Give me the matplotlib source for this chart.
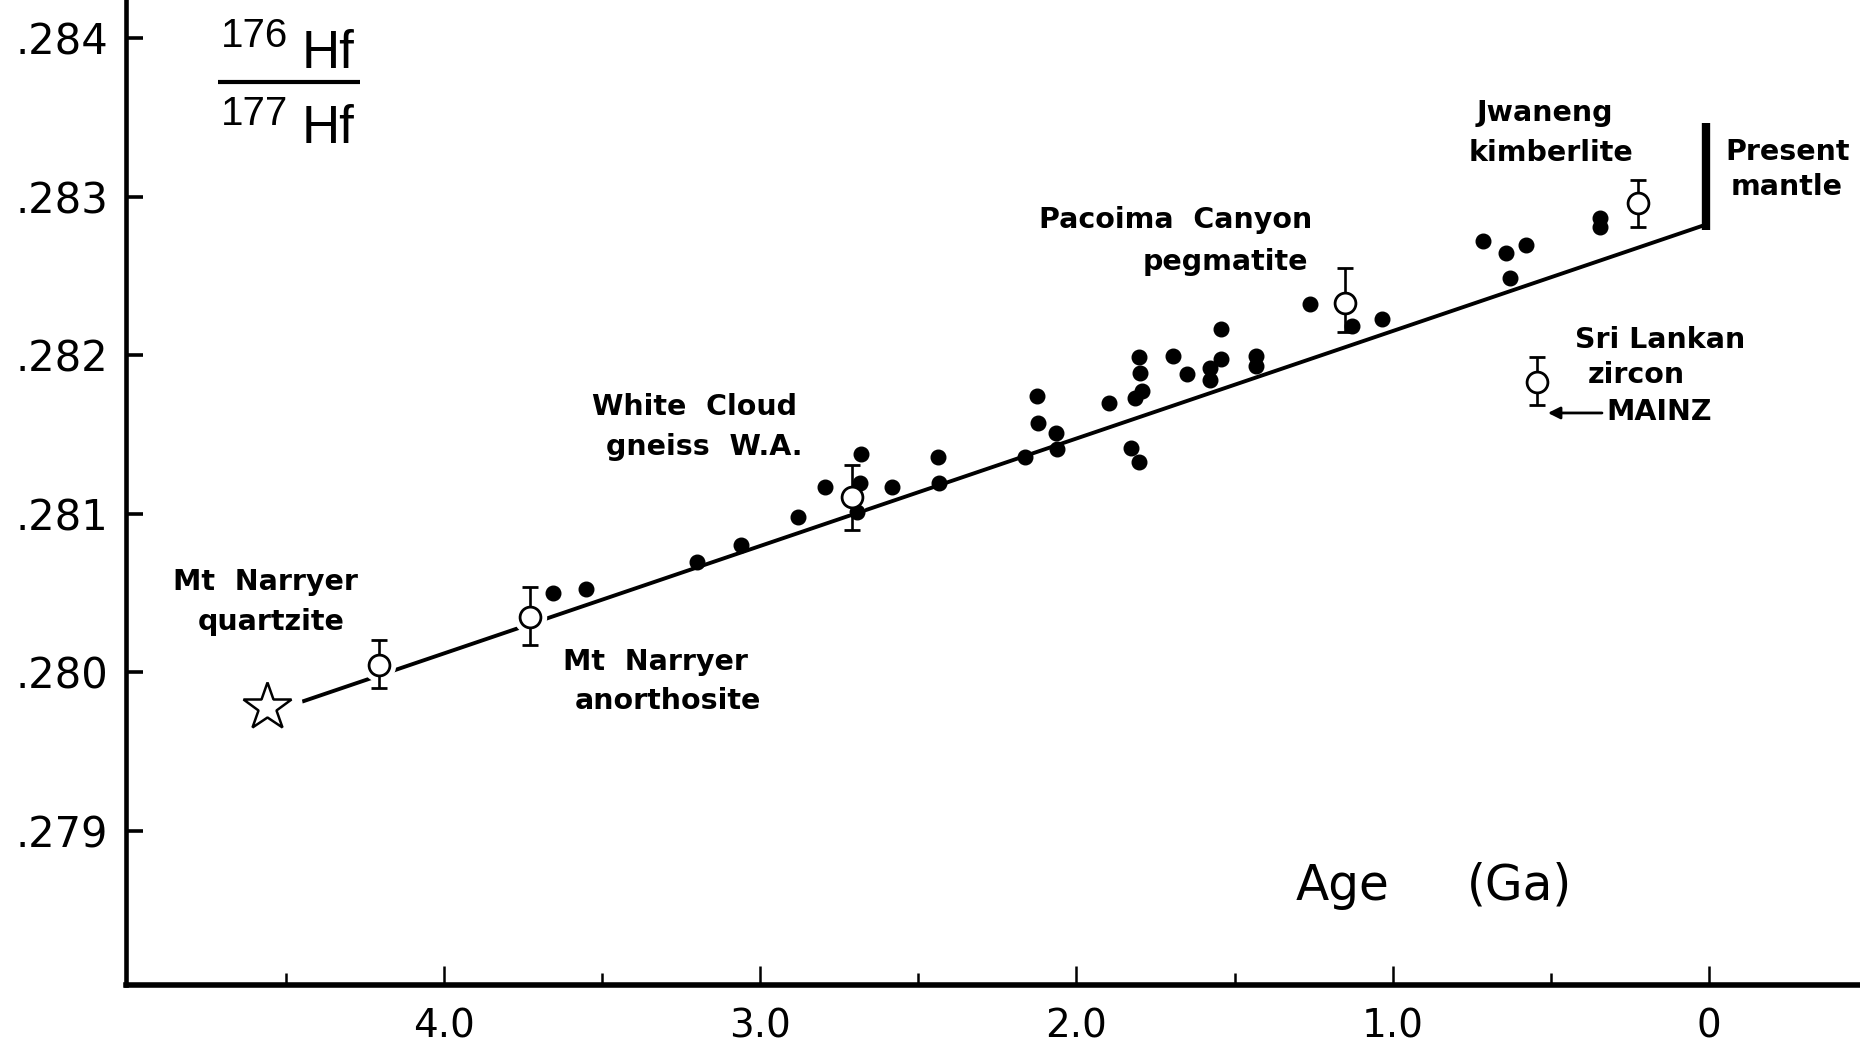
import matplotlib
matplotlib.use('Agg')
import matplotlib.pyplot as plt
from matplotlib.ticker import FixedLocator

plt.rcParams['font.family'] = ['DejaVu Sans']

# filled dots: individual zircon analyses (age in Ga, 176Hf/177Hf)
dot_age = [3.655, 3.552, 3.200, 3.062, 2.882, 2.796, 2.680, 2.685, 2.694, 2.585,
           2.437, 2.434, 2.163, 2.065, 2.063, 2.124, 2.121, 1.897, 1.829, 1.802,
           1.802, 1.799, 1.815, 1.794, 1.696, 1.650, 1.578, 1.578, 1.544, 1.544,
           1.433, 1.433, 1.260, 1.130, 1.035, 0.714, 0.642, 0.579, 0.629, 0.345,
           0.345]
dot_hf = [0.280503, 0.280524, 0.280696, 0.280803, 0.280982, 0.281171, 0.281377,
          0.281192, 0.281013, 0.281171, 0.281356, 0.281196, 0.281360, 0.281508,
          0.281407, 0.281743, 0.281574, 0.281697, 0.281413, 0.281328, 0.281991,
          0.281890, 0.281728, 0.281776, 0.281997, 0.281881, 0.281917, 0.281844,
          0.282163, 0.281974, 0.281997, 0.281932, 0.282321, 0.282184, 0.282226,
          0.282722, 0.282642, 0.282695, 0.282485, 0.282863, 0.282810]

# open circles with error bars
circ_age = [4.206, 3.729, 2.711, 1.151, 0.224, 0.545]
circ_hf = [0.280047, 0.280349, 0.281108, 0.282327, 0.282958, 0.281833]
circ_err_lo = [0.000145, 0.000176, 0.000210, 0.000180, 0.000148, 0.000147]
circ_err_hi = [0.000157, 0.000189, 0.000200, 0.000220, 0.000147, 0.000158]

# chondritic starting point (star)
star_age = [4.561]
star_hf = [0.279784]

# evolution line
line_age = [4.561, 0.0]
line_hf = [0.27974, 0.28283]

# present mantle range
mantle_age = [0.01, 0.01]
mantle_hf = [0.282789, 0.283464]

x_ticks = [4.0, 3.0, 2.0, 1.0, 0.0]
x_tick_labels = ['4.0', '3.0', '2.0', '1.0', '0']
x_minor = [4.5, 3.5, 2.5, 1.5, 0.5]
y_ticks = [0.279, 0.280, 0.281, 0.282, 0.283, 0.284]
y_tick_labels = ['.279', '.280', '.281', '.282', '.283', '.284']

fig = plt.figure(figsize=(18.6, 10.42), dpi=100)
ax = fig.add_axes([126 / 1860, 57 / 1042, 1 - 126 / 1860, 985 / 1042])

ax.set_xlim(5.006, -0.478)
ax.set_ylim(0.278029, 0.284240)

# line with white gaps round the open symbols
ax.plot(line_age, line_hf, color='black', lw=2.8, zorder=1, solid_capstyle='butt')
ax.plot(circ_age, circ_hf, 'o', color='white', ms=23, zorder=2)
ax.plot(star_age, star_hf, 'o', color='white', ms=50, zorder=2)

ax.plot(dot_age, dot_hf, 'o', color='black', ms=10.5, ls='none', zorder=3)

ax.errorbar(circ_age, circ_hf, yerr=[circ_err_lo, circ_err_hi], fmt='o', ms=15,
            mfc='white', mec='black', mew=2.0, ecolor='black', elinewidth=1.9,
            capsize=6, capthick=2.3, zorder=4)

ax.plot(star_age, star_hf, marker='*', ms=36, mfc='white', mec='black', mew=1.8,
        ls='none', zorder=4)

ax.plot(mantle_age, mantle_hf, color='black', lw=6, solid_capstyle='butt', zorder=4)

# axes styling
for side in ['top', 'right']:
    ax.spines[side].set_visible(False)
ax.spines['left'].set_linewidth(3.3)
ax.spines['bottom'].set_linewidth(4)

ax.xaxis.set_major_locator(FixedLocator(x_ticks))
ax.xaxis.set_minor_locator(FixedLocator(x_minor))
ax.set_xticklabels(x_tick_labels)
ax.yaxis.set_major_locator(FixedLocator(y_ticks))
ax.set_yticklabels(y_tick_labels)

ax.tick_params(axis='x', which='major', direction='in', length=14, width=1.8,
               labelsize=28, pad=16)
ax.tick_params(axis='x', which='minor', direction='in', length=9, width=1.8)
ax.tick_params(axis='y', which='major', direction='in', length=12, width=2.6,
               labelsize=30, pad=13)

# 176Hf / 177Hf label
hf_font = ['Liberation Sans', 'DejaVu Sans']
ax.text(0.0934, 0.9523, '176', transform=ax.transAxes, ha='right', va='baseline',
        fontsize=29, family=hf_font)
ax.text(0.1015, 0.931, 'Hf', transform=ax.transAxes, ha='left', va='baseline',
        fontsize=38, family=hf_font)
ax.plot([0.0531, 0.135], [0.9167, 0.9167], transform=ax.transAxes, color='black',
        lw=3, solid_capstyle='butt', clip_on=False)
ax.text(0.0934, 0.8731, '177', transform=ax.transAxes, ha='right', va='baseline',
        fontsize=29, family=hf_font)
ax.text(0.1015, 0.8548, 'Hf', transform=ax.transAxes, ha='left', va='baseline',
        fontsize=38, family=hf_font)

# axis title
ax.text(1.157, 0.278565, 'Age', ha='center', va='baseline', fontsize=35)
ax.text(0.600, 0.278565, '(Ga)', ha='center', va='baseline', fontsize=35)

# sample labels
lab = dict(fontsize=20.5, fontweight='bold', ha='center', va='center')
ax.text(0.519, 0.283527, 'Jwaneng', **lab)
ax.text(0.500, 0.283275, 'kimberlite', **lab)
ax.text(-0.250, 0.283281, 'Present', **lab)
ax.text(-0.247, 0.283061, 'mantle', **lab)
ax.text(1.686, 0.282852, 'Pacoima  Canyon', **lab)
ax.text(1.528, 0.282588, 'pegmatite', **lab)
ax.text(0.155, 0.282096, 'Sri Lankan', **lab)
ax.text(0.231, 0.281875, 'zircon', **lab)
ax.text(0.323, 0.281642, 'MAINZ', fontsize=20.5, fontweight='bold', ha='left', va='center')
ax.text(3.207, 0.281673, 'White  Cloud', **lab)
ax.text(3.178, 0.281421, 'gneiss  W.A.', **lab)
ax.text(4.566, 0.280570, 'Mt  Narryer', **lab)
ax.text(4.547, 0.280318, 'quartzite', **lab)
ax.text(3.333, 0.280066, 'Mt  Narryer', **lab)
ax.text(3.292, 0.279820, 'anorthosite', **lab)

ax.annotate('', xy=(0.509, 0.281636), xytext=(0.338, 0.281636),
            arrowprops=dict(arrowstyle='-|>', color='black', lw=2,
                            mutation_scale=18, shrinkA=0, shrinkB=0))

fig.savefig('out.png', dpi=100)
